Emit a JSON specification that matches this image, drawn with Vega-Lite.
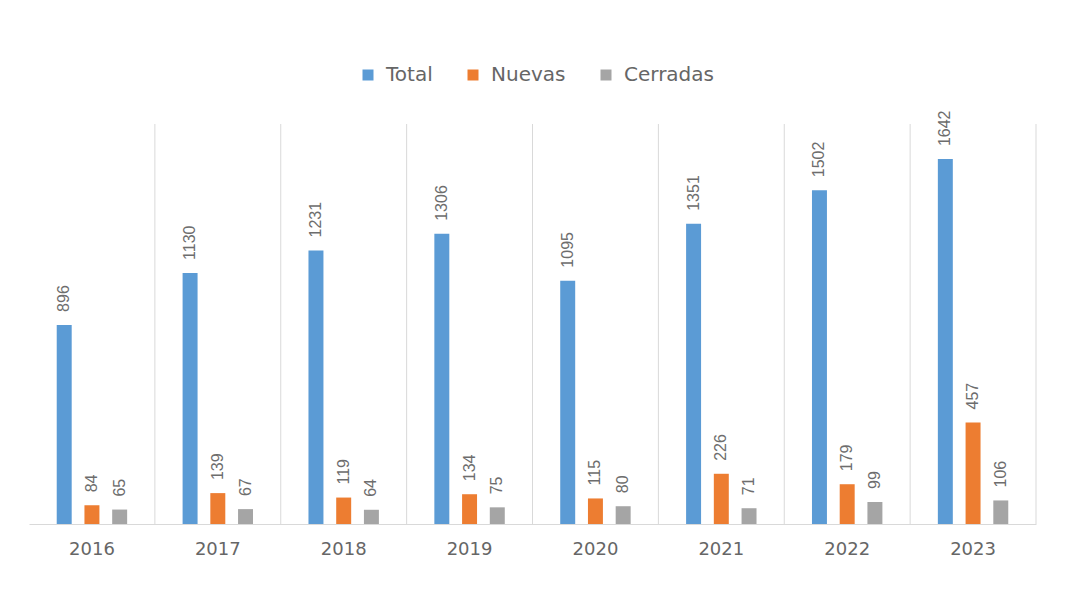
{
  "$schema": "https://vega.github.io/schema/vega-lite/v6.json",
  "width": 1007,
  "height": 400,
  "autosize": {"type": "none"},
  "padding": {"left": 29, "top": 124, "right": 34, "bottom": 72},
  "background": "white",
  "data": {"values": [
    {"year": "2016", "series": "Total", "value": 896},
    {"year": "2016", "series": "Nuevas", "value": 84},
    {"year": "2016", "series": "Cerradas", "value": 65},
    {"year": "2017", "series": "Total", "value": 1130},
    {"year": "2017", "series": "Nuevas", "value": 139},
    {"year": "2017", "series": "Cerradas", "value": 67},
    {"year": "2018", "series": "Total", "value": 1231},
    {"year": "2018", "series": "Nuevas", "value": 119},
    {"year": "2018", "series": "Cerradas", "value": 64},
    {"year": "2019", "series": "Total", "value": 1306},
    {"year": "2019", "series": "Nuevas", "value": 134},
    {"year": "2019", "series": "Cerradas", "value": 75},
    {"year": "2020", "series": "Total", "value": 1095},
    {"year": "2020", "series": "Nuevas", "value": 115},
    {"year": "2020", "series": "Cerradas", "value": 80},
    {"year": "2021", "series": "Total", "value": 1351},
    {"year": "2021", "series": "Nuevas", "value": 226},
    {"year": "2021", "series": "Cerradas", "value": 71},
    {"year": "2022", "series": "Total", "value": 1502},
    {"year": "2022", "series": "Nuevas", "value": 179},
    {"year": "2022", "series": "Cerradas", "value": 99},
    {"year": "2023", "series": "Total", "value": 1642},
    {"year": "2023", "series": "Nuevas", "value": 457},
    {"year": "2023", "series": "Cerradas", "value": 106}
  ]},
  "encoding": {
    "x": {
      "field": "year", "type": "nominal",
      "scale": {"paddingInner": 0, "paddingOuter": 0},
      "axis": {
        "title": null, "labelAngle": 0, "ticks": false, "grid": false,
        "domainColor": "#d9d9d9", "domainWidth": 1,
        "labelFont": "DejaVu Sans", "labelFontSize": 18, "labelColor": "#666666",
        "labelPadding": 16
      }
    }
  },
  "layer": [
    {
      "transform": [{"filter": "datum.series === 'Total'"}],
      "mark": {"type": "rule", "color": "#d9d9d9", "strokeWidth": 1},
      "encoding": {
        "x": {"field": "year", "type": "nominal", "bandPosition": 1}
      }
    },
    {
      "mark": {"type": "bar"},
      "encoding": {
        "xOffset": {
          "field": "series", "type": "nominal",
          "sort": ["Total", "Nuevas", "Cerradas"],
          "scale": {"paddingInner": 0.46, "paddingOuter": 1.15}
        },
        "y": {
          "field": "value", "type": "quantitative",
          "scale": {"domain": [0, 1800], "nice": false},
          "axis": null
        },
        "color": {
          "field": "series", "type": "nominal",
          "scale": {"domain": ["Total", "Nuevas", "Cerradas"], "range": ["#5b9bd5", "#ed7d31", "#a5a5a5"]},
          "legend": {
            "title": null, "orient": "none", "legendX": 329, "legendY": -59,
            "direction": "horizontal", "symbolType": "square", "symbolSize": 121,
            "labelFont": "DejaVu Sans", "labelFontSize": 20, "labelColor": "#666666",
            "columnPadding": 30, "labelOffset": 8
          }
        }
      }
    },
    {
      "mark": {
        "type": "text", "angle": 270, "align": "left", "baseline": "middle",
        "dx": 13, "font": "Liberation Sans", "fontSize": 16, "color": "#6d6d6d"
      },
      "encoding": {
        "xOffset": {
          "field": "series", "type": "nominal",
          "sort": ["Total", "Nuevas", "Cerradas"],
          "scale": {"paddingInner": 0.46, "paddingOuter": 1.15}
        },
        "y": {"field": "value", "type": "quantitative"},
        "text": {"field": "value", "type": "quantitative"}
      }
    }
  ],
  "config": {"view": {"stroke": null}}
}
